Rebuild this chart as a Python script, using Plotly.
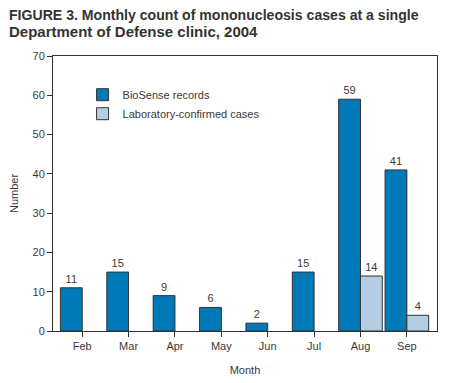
import plotly.graph_objects as go

months = ["Feb", "Mar", "Apr", "May", "Jun", "Jul", "Aug", "Sep"]
biosense = [11, 15, 9, 6, 2, 15, 59, 41]
lab_confirmed = [None, None, None, None, None, None, 14, 4]
series_names = ["BioSense records", "Laboratory-confirmed cases"]
y_ticks = [0, 10, 20, 30, 40, 50, 60, 70]
title_lines = ["FIGURE 3. Monthly count of mononucleosis cases at a single",
               "Department of Defense clinic, 2004"]

TXT = "#3a3a3a"
FONT = "Liberation Sans, Arial, sans-serif"
x_idx = list(range(len(months)))
W = 0.47

fig = go.Figure()
fig.add_trace(go.Bar(
    x=x_idx, y=biosense, name=series_names[0], width=W, offset=-W,
    marker=dict(color="#0079B9", line=dict(color="#333333", width=1)),
    text=[str(v) for v in biosense], textposition="outside",
    textfont=dict(size=11, color=TXT, family=FONT), cliponaxis=False,
))
fig.add_trace(go.Bar(
    x=x_idx, y=lab_confirmed, name=series_names[1], width=W, offset=0,
    marker=dict(color="#B4CDE4", line=dict(color="#333333", width=1)),
    text=["" if v is None else str(v) for v in lab_confirmed], textposition="outside",
    textfont=dict(size=11, color=TXT, family=FONT), cliponaxis=False,
))

title_ann = [
    dict(text="<b>%s</b>" % line, xref="paper", yref="paper",
         x=-0.117, y=yy, xanchor="left", yanchor="top", align="left",
         showarrow=False, borderpad=0,
         font=dict(size=sz, color="#333333", family=FONT))
    for line, yy, sz in zip(title_lines, [1.182, 1.125], [14.1, 15])
]

# page body has an 8px default margin, so the figure is 8px smaller and shifted
fig.update_layout(
    width=442, height=375,
    margin=dict(l=45, r=13, t=48, b=52, autoexpand=False),
    paper_bgcolor="white", plot_bgcolor="white",
    font=dict(family=FONT, size=11, color=TXT),
    showlegend=True,
    legend=dict(x=0.077, y=0.912, xanchor="left", yanchor="top",
                bgcolor="rgba(0,0,0,0)", font=dict(size=11, color=TXT),
                traceorder="normal", itemwidth=30, tracegroupgap=0),
    annotations=title_ann,
)
fig.update_xaxes(
    range=[-0.63, 7.65], tickmode="array", tickvals=x_idx, ticktext=months,
    showline=True, linecolor="#333333", linewidth=1, mirror=True,
    ticks="outside", ticklen=5, tickcolor="#333333", showgrid=False,
    title=dict(text="Month", font=dict(size=11, color=TXT), standoff=15),
    zeroline=False, automargin=False,
)
fig.update_yaxes(
    range=[0, 70], tickmode="array", tickvals=y_ticks,
    showline=True, linecolor="#333333", linewidth=1, mirror=True,
    ticks="outside", ticklen=5, tickcolor="#333333", showgrid=False,
    title=dict(text="Number", font=dict(size=11, color=TXT), standoff=12),
    zeroline=False, automargin=False,
)

fig.write_html("out.html")
